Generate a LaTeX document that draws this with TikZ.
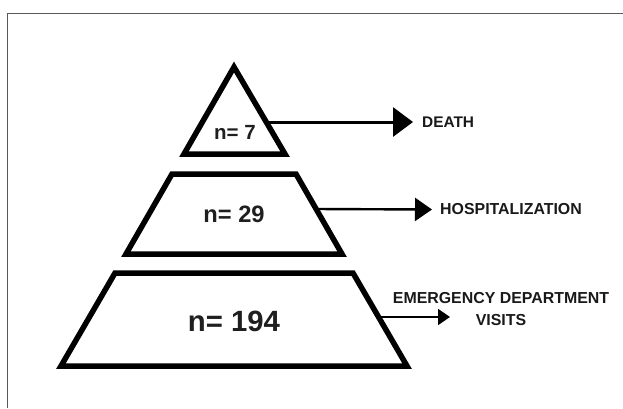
\documentclass[tikz,border=0pt]{standalone}
\usepackage{fontspec}
\setmainfont{Liberation Sans}
\usetikzlibrary{arrows.meta}
\begin{document}
\begin{tikzpicture}[x=1pt,y=-1pt,
  level/.style={draw=black,line width=5.5pt,line join=miter,fill=white},
  count/.style={font=\bfseries,inner sep=0pt,text=black!88},
  outcome/.style={font=\bfseries\fontsize{15.4}{18}\selectfont,inner sep=0pt,anchor=west,text=black!90,align=center},
  frame/.style={draw=black!65,line width=1.8pt}]
\useasboundingbox (0,0) rectangle (623,408);
\draw[frame] (7.5,408) -- (7.5,13.5) -- (623,13.5);
% levels
\draw[level] (234,67) -- (285,154) -- (184,154) -- cycle;
\draw[level] (172,174) -- (296,174) -- (342,254) -- (126,254) -- cycle;
\draw[level] (115,273) -- (353,273) -- (407,366) -- (61,366) -- cycle;
% counts
\node[count,font=\bfseries\fontsize{20.5}{24}\selectfont] (c1) at (235,132) {n= 7};
\node[count,font=\bfseries\fontsize{23.7}{27}\selectfont] (c2) at (234,214) {n= 29};
\node[count,font=\bfseries\fontsize{29.3}{33}\selectfont] (c3) at (234,321) {n= 194};
% connector starts
\coordinate (s1) at (267,122);
\coordinate (s2) at (316,209);
\coordinate (s3) at (379,317);
% outcomes
\node[outcome] (death) at (422,122) {DEATH};
\node[outcome,font=\bfseries\fontsize{15.9}{18}\selectfont] (hosp) at (440,209.5) {HOSPITALIZATION};
\node[outcome,font=\bfseries\fontsize{15.9}{22}\selectfont,anchor=center] (ed) at (501,309) {EMERGENCY DEPARTMENT\\VISITS};
% arrows
\draw[line width=3pt,-{Triangle[length=20pt,width=29pt]}] (s1) -- ([xshift=-9pt]death.west);
\draw[line width=2.4pt,-{Triangle[length=17pt,width=23pt]}] (s2) -- ([xshift=-8pt]hosp.west);
\draw[line width=1.8pt,-{Triangle[length=12pt,width=16pt]}] (s3) -- (450,317);
\end{tikzpicture}
\end{document}
